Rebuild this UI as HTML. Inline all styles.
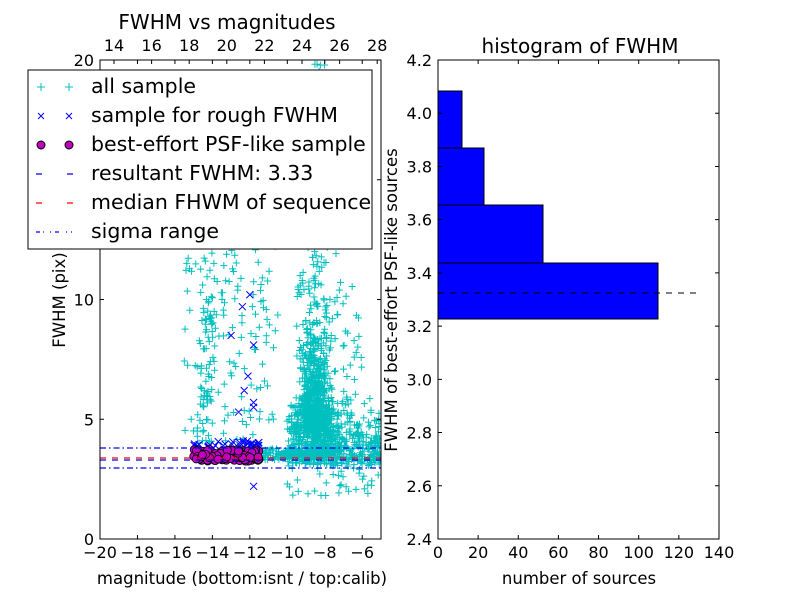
<!DOCTYPE html>
<html><head><meta charset="utf-8"><style>
body{margin:0;background:#fff;font-family:"DejaVu Sans","Liberation Sans",sans-serif}
svg text{font-family:"DejaVu Sans","Liberation Sans",sans-serif}
</style></head><body>
<svg id="s" width="800" height="600" xmlns="http://www.w3.org/2000/svg">
<rect width="800" height="600" fill="#fff"/>
<defs><clipPath id="c1"><rect x="100" y="60" width="281" height="479"/></clipPath></defs>
<g id="pts" clip-path="url(#c1)"></g>
<g clip-path="url(#c1)">
<line x1="100" y1="448" x2="381" y2="448" stroke="#00f" stroke-dasharray="6,3,1.5,3" stroke-width="1.2"/>
<line x1="100" y1="468" x2="381" y2="468" stroke="#00f" stroke-dasharray="6,3,1.5,3" stroke-width="1.2"/>
<line x1="100" y1="458" x2="381" y2="458" stroke="#f00" stroke-dasharray="6,6" stroke-width="1.3"/>
<line x1="100" y1="460" x2="381" y2="460" stroke="#00f" stroke-dasharray="6,6" stroke-width="1.3"/>
</g>
<rect x="100" y="60" width="281" height="479" fill="none" stroke="#000"/>
<g id="ax1" font-size="16"></g>
<text x="227" y="29" font-size="20" text-anchor="middle">FWHM vs magnitudes</text>
<text x="242" y="584" font-size="16.5" text-anchor="middle">magnitude (bottom:isnt / top:calib)</text>
<text transform="translate(65,300) rotate(-90)" font-size="16.5" text-anchor="middle">FWHM (pix)</text>
<rect x="28" y="70" width="344" height="179" fill="#fff" stroke="#000"/>
<g font-size="20.5">
<text x="91" y="93">all sample</text>
<text x="91" y="122">sample for rough FWHM</text>
<text x="91" y="151">best-effort PSF-like sample</text>
<text x="91" y="180">resultant FWHM: 3.33</text>
<text x="91" y="209">median FHWM of sequence</text>
<text x="91" y="238">sigma range</text>
</g>
<g stroke="#0bbfbf" stroke-width="1"><path d="M37 87h8M41 83v8M65 87h8M69 83v8"/></g>
<g stroke="#00f" stroke-width="1"><path d="M38 113l6 6M44 113l-6 6M66 113l6 6M72 113l-6 6"/></g>
<circle cx="41" cy="145" r="4" fill="#bf00bf" stroke="#000"/><circle cx="69" cy="145" r="4" fill="#bf00bf" stroke="#000"/>
<path d="M36 174h6M67 174h6" stroke="#00f" stroke-width="1.3"/>
<path d="M36 203h6M67 203h6" stroke="#f00" stroke-width="1.3"/>
<path d="M36 232h4M43 232h1M50 232h1M55 232h4M66 232h1M71 232h1" stroke="#00f" stroke-width="1.3"/>
<g fill="#00f" stroke="#000">
<rect x="438" y="263" width="220" height="56"/>
<rect x="438" y="205" width="105" height="58"/>
<rect x="438" y="148" width="46" height="57"/>
<rect x="438" y="91" width="24" height="57"/>
</g>
<line x1="438" y1="293" x2="698" y2="293" stroke="#000" stroke-dasharray="6,6"/>
<rect x="438" y="60" width="281" height="479" fill="none" stroke="#000"/>
<g id="ax2" font-size="16"></g>
<text x="580" y="53" font-size="20" text-anchor="middle">histogram of FWHM</text>
<text x="579" y="584" font-size="16.5" text-anchor="middle">number of sources</text>
<text transform="translate(397,300) rotate(-90)" font-size="16.5" text-anchor="middle">FWHM of best-effort PSF-like sources</text>
</svg>
<script>
var NS="http://www.w3.org/2000/svg",s=document.getElementById('s');
function el(p,t,a,tx){var e=document.createElementNS(NS,t);for(var k in a)e.setAttribute(k,a[k]);if(tx!=null)e.textContent=tx;p.appendChild(e);return e;}
var a1=document.getElementById('ax1'),a2=document.getElementById('ax2');
function X(m){return 100+(m+20)*18.73}function Y(f){return 539-f*23.95}
for(var m=-20;m<=-6;m+=2){var x=X(m);el(a1,'path',{d:'M'+x+' 539v-4M'+x+' 60v4',stroke:'#000'});el(a1,'text',{x:x,y:558,'text-anchor':'middle'},'\u2212'+(-m));}
for(var t=14;t<=28;t+=2){var x=114+(t-14)*18.8;el(a1,'text',{x:x,y:51,'text-anchor':'middle'},t);el(a1,'path',{d:'M'+x+' 60v4',stroke:'#000'});}
[0,5,10,15,20].forEach(function(f){var y=Y(f);el(a1,'path',{d:'M100 '+y+'h4M381 '+y+'h-4',stroke:'#000'});el(a1,'text',{x:94,y:y+6,'text-anchor':'end'},f);});
for(var n=0;n<=140;n+=20){var x=438+n*2.007;el(a2,'path',{d:'M'+x+' 539v-4M'+x+' 60v4',stroke:'#000'});el(a2,'text',{x:x,y:558,'text-anchor':'middle'},n);}
for(var i=0;i<=9;i++){var v=2.4+i*0.2,y=539-(v-2.4)*266.1;el(a2,'path',{d:'M438 '+y+'h4M719 '+y+'h-4',stroke:'#000'});el(a2,'text',{x:432,y:y+6,'text-anchor':'end'},v.toFixed(1));}
var seed=7;function r(){seed=(seed*16807)%2147483647;return seed/2147483647;}
function g(){return (r()+r()+r()+r()-2)*1.22;}
var P=document.getElementById('pts'),d='';
function cr(m,f){var x=X(m),y=Y(f);d+='M'+(x-3.5)+' '+y+'h7M'+x+' '+(y-3.5)+'v7';}
for(var i=0;i<900;i++){var f=4.5+Math.abs(g())*2.4;var m=-8.5+g()*0.55+(f<6?g()*0.5:0);if(r()<0.3)f=3.4+r()*2.2;if(r()<0.12)f=7+r()*10;cr(m,f);}
for(var i=0;i<450;i++){var m=-10+r()*5,f=3.1+Math.abs(g())*1.6;cr(m,f);}
for(var i=0;i<90;i++){cr(-9.5+r()*3.5,5+r()*6);}
for(var i=0;i<50;i++){cr(-8.6+g()*0.6,13+r()*7);}
for(var i=0;i<150;i++){cr(-11.8+r()*3.5,3.3+r()*0.5);}
for(var i=0;i<200;i++){cr(-15.5+r()*5,4+r()*11.5);}
for(var i=0;i<60;i++){cr(-14.3+g()*0.3,4+r()*6);}
for(var i=0;i<80;i++){cr(-10+r()*5,1.8+r()*3);}
el(P,'path',{d:d,stroke:'#00bfbf','stroke-width':1,fill:'none'});
var bx='';function xx(m,f){var x=X(m),y=Y(f);bx+='M'+(x-3.5)+' '+(y-3.5)+'l7 7M'+(x+3.5)+' '+(y-3.5)+'l-7 7';}
for(var i=0;i<40;i++)xx(-15+r()*3.5,3.7+r()*0.4);
[[-12,10.2],[-12.4,9.7],[-13,8.5],[-11.8,8.1],[-12.1,6.8],[-12.3,6.2],[-12.6,5.3],[-11.8,5.7],[-11.8,5.5],[-11.8,2.2]].forEach(function(p){xx(p[0],p[1]);});
el(P,'path',{d:bx,stroke:'#00f','stroke-width':1,fill:'none'});
for(var i=0;i<110;i++){var m=-15+r()*3.5,f=3.25+r()*0.5;el(P,'circle',{cx:X(m),cy:Y(f),r:4,fill:'#bf00bf',stroke:'#000','stroke-width':0.8});}
</script>
</body></html>
